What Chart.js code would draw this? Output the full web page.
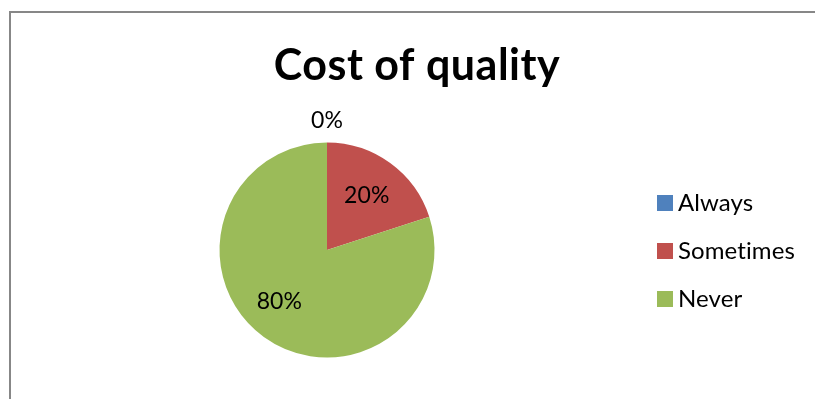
<!DOCTYPE html>
<html>
<head>
<meta charset="utf-8">
<script src="https://cdn.jsdelivr.net/npm/chart.js@4/dist/chart.umd.min.js"></script>
<style>
  html, body { margin: 0; padding: 0; background: #fff; }
  #wrap { position: relative; width: 815px; height: 399px; }
</style>
</head>
<body>
<div id="wrap"><canvas id="c" width="815" height="399"></canvas></div>
<script>
const chartTitle = 'Cost of quality';
const categories = ['Always', 'Sometimes', 'Never'];
const shares = [0, 20, 80];
const sliceColors = ['#4F81BD', '#C0504D', '#9BBB59'];
const FONT = 'Lato, "Open Sans", sans-serif';

// label placement per slice: radius (fraction of outer radius) and angle nudge (degrees)
const labelRadius = [1.2, 0.63, 0.65];
const labelNudge = [0, 0, 7];

// Frame, title, value labels and legend drawn around the pie
const decorations = {
  id: 'decorations',
  beforeDraw(chart) {
    const ctx = chart.ctx;
    ctx.save();
    ctx.strokeStyle = '#878787';
    ctx.lineWidth = 2;
    ctx.beginPath();
    ctx.moveTo(10, 399);
    ctx.lineTo(10, 12);
    ctx.lineTo(815, 12);
    ctx.stroke();
    ctx.restore();
  },
  afterDraw(chart) {
    const ctx = chart.ctx;
    const meta = chart.getDatasetMeta(0);
    ctx.save();
    // plain glyphs, no "ti" ligature
    ctx.textRendering = 'optimizeSpeed';
    ctx.fillStyle = '#000';
    ctx.textAlign = 'center';
    ctx.textBaseline = 'alphabetic';
    ctx.font = 'bold 43px ' + FONT;
    ctx.letterSpacing = '0.5px';
    ctx.fillText(chartTitle, 417, 80);
    ctx.letterSpacing = '0.1px';

    ctx.textBaseline = 'middle';
    ctx.font = '23px ' + FONT;
    meta.data.forEach((arc, i) => {
      const p = arc.getProps(['x', 'y', 'startAngle', 'endAngle', 'outerRadius'], true);
      const mid = (p.startAngle + p.endAngle) / 2 + labelNudge[i] * Math.PI / 180;
      const r = p.outerRadius * labelRadius[i];
      ctx.fillText(shares[i] + '%', p.x + Math.cos(mid) * r, p.y + Math.sin(mid) * r);
    });

    // legend
    ctx.textAlign = 'left';
    ctx.textBaseline = 'alphabetic';
    ctx.font = '24px ' + FONT;
    categories.forEach((name, i) => {
      const y = 203 + i * 48;
      ctx.fillStyle = sliceColors[i];
      ctx.fillRect(657, y - 8, 16, 16);
      ctx.fillStyle = '#000';
      ctx.fillText(name, 678, y + 8);
    });
    ctx.restore();
  }
};

new Chart(document.getElementById('c'), {
  type: 'pie',
  data: {
    labels: categories,
    datasets: [{
      data: shares,
      backgroundColor: sliceColors,
      borderWidth: 0
    }]
  },
  options: {
    responsive: false,
    animation: false,
    layout: { padding: { left: 219.5, right: 815 - 434.5, top: 142.5, bottom: 399 - 357.5 } },
    plugins: { legend: { display: false }, tooltip: { enabled: false }, title: { display: false } }
  },
  plugins: [decorations]
});
</script>
</body>
</html>
